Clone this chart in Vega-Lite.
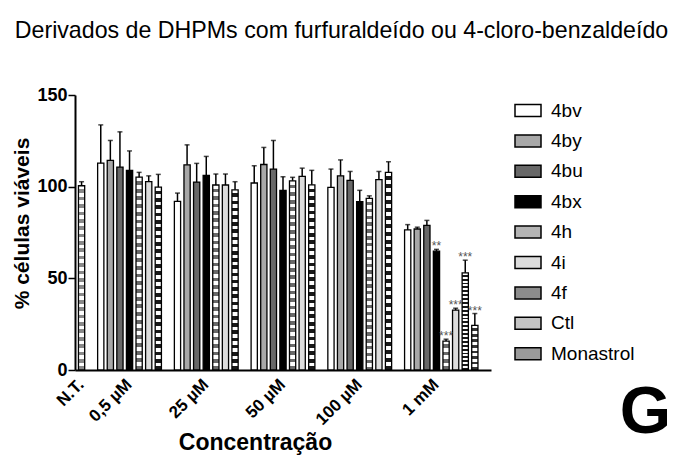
{
  "$schema": "https://vega.github.io/schema/vega-lite/v6.json",
  "background": "white",
  "padding": {"left": 11, "top": 18, "right": 0, "bottom": 0},
  "title": {"text": "Derivados de DHPMs com furfuraldeído ou 4-cloro-benzaldeído", "font": "Liberation Sans", "fontSize": 23.2, "fontWeight": "normal", "color": "black", "offset": 43, "anchor": "middle"},
  "config": {"view": {"stroke": null}, "font": "Liberation Sans",
    "axisY": {"titleFont": "Liberation Sans", "titleFontSize": 21, "titleFontWeight": "bold", "titleColor": "black", "titlePadding": 4}},
  "vconcat": [{
    "width": 416,
    "height": 275,
    "title": {"text": "G", "orient": "bottom", "anchor": "end", "frame": "bounds", "font": "Liberation Sans", "fontSize": 66, "fontWeight": "bold", "color": "black", "dx": 180, "dy": -74, "offset": 0},
    "data": {"values": [
      {"g": "N.T.", "s": "Ctl", "bar": "N.T.|Ctl", "v": 100.5, "hi": 102.7, "sig": ""},
      {"g": "0,5 µM", "s": "4bv", "bar": "0,5 µM|4bv", "v": 112.8, "hi": 133.7, "sig": ""},
      {"g": "0,5 µM", "s": "4by", "bar": "0,5 µM|4by", "v": 114.3, "hi": 125.2, "sig": ""},
      {"g": "0,5 µM", "s": "4bu", "bar": "0,5 µM|4bu", "v": 110.7, "hi": 129.9, "sig": ""},
      {"g": "0,5 µM", "s": "4bx", "bar": "0,5 µM|4bx", "v": 108.9, "hi": 119.5, "sig": ""},
      {"g": "0,5 µM", "s": "4h", "bar": "0,5 µM|4h", "v": 105.2, "hi": 107.8, "sig": ""},
      {"g": "0,5 µM", "s": "4i", "bar": "0,5 µM|4i", "v": 102.7, "hi": 105.9, "sig": ""},
      {"g": "0,5 µM", "s": "4f", "bar": "0,5 µM|4f", "v": 99.8, "hi": 106.7, "sig": ""},
      {"g": "25 µM", "s": "4bv", "bar": "25 µM|4bv", "v": 92.0, "hi": 96.5, "sig": ""},
      {"g": "25 µM", "s": "4by", "bar": "25 µM|4by", "v": 111.9, "hi": 122.8, "sig": ""},
      {"g": "25 µM", "s": "4bu", "bar": "25 µM|4bu", "v": 102.5, "hi": 112.7, "sig": ""},
      {"g": "25 µM", "s": "4bx", "bar": "25 µM|4bx", "v": 106.1, "hi": 116.5, "sig": ""},
      {"g": "25 µM", "s": "4h", "bar": "25 µM|4h", "v": 100.9, "hi": 106.9, "sig": ""},
      {"g": "25 µM", "s": "4i", "bar": "25 µM|4i", "v": 100.9, "hi": 106.9, "sig": ""},
      {"g": "25 µM", "s": "4f", "bar": "25 µM|4f", "v": 98.3, "hi": 102.7, "sig": ""},
      {"g": "50 µM", "s": "4bv", "bar": "50 µM|4bv", "v": 102.0, "hi": 111.4, "sig": ""},
      {"g": "50 µM", "s": "4by", "bar": "50 µM|4by", "v": 112.1, "hi": 121.4, "sig": ""},
      {"g": "50 µM", "s": "4bu", "bar": "50 µM|4bu", "v": 109.6, "hi": 125.2, "sig": ""},
      {"g": "50 µM", "s": "4bx", "bar": "50 µM|4bx", "v": 98.0, "hi": 105.4, "sig": ""},
      {"g": "50 µM", "s": "4h", "bar": "50 µM|4h", "v": 103.2, "hi": 105.1, "sig": ""},
      {"g": "50 µM", "s": "4i", "bar": "50 µM|4i", "v": 105.6, "hi": 110.1, "sig": ""},
      {"g": "50 µM", "s": "4f", "bar": "50 µM|4f", "v": 101.0, "hi": 108.9, "sig": ""},
      {"g": "100 µM", "s": "4bv", "bar": "100 µM|4bv", "v": 99.6, "hi": 109.6, "sig": ""},
      {"g": "100 µM", "s": "4by", "bar": "100 µM|4by", "v": 105.9, "hi": 114.6, "sig": ""},
      {"g": "100 µM", "s": "4bu", "bar": "100 µM|4bu", "v": 103.4, "hi": 108.3, "sig": ""},
      {"g": "100 µM", "s": "4bx", "bar": "100 µM|4bx", "v": 91.8, "hi": 98.0, "sig": ""},
      {"g": "100 µM", "s": "4h", "bar": "100 µM|4h", "v": 93.6, "hi": 95.0, "sig": ""},
      {"g": "100 µM", "s": "4i", "bar": "100 µM|4i", "v": 103.8, "hi": 108.3, "sig": ""},
      {"g": "100 µM", "s": "4f", "bar": "100 µM|4f", "v": 107.8, "hi": 113.6, "sig": ""},
      {"g": "1 mM", "s": "4bv", "bar": "1 mM|4bv", "v": 76.4, "hi": 79.3, "sig": ""},
      {"g": "1 mM", "s": "4by", "bar": "1 mM|4by", "v": 76.9, "hi": 77.9, "sig": ""},
      {"g": "1 mM", "s": "4bu", "bar": "1 mM|4bu", "v": 78.9, "hi": 81.6, "sig": ""},
      {"g": "1 mM", "s": "4bx", "bar": "1 mM|4bx", "v": 64.8, "hi": 65.8, "sig": "**"},
      {"g": "1 mM", "s": "4h", "bar": "1 mM|4h", "v": 15.8, "hi": 16.8, "sig": "***"},
      {"g": "1 mM", "s": "4i", "bar": "1 mM|4i", "v": 32.7, "hi": 33.7, "sig": "***"},
      {"g": "1 mM", "s": "4f", "bar": "1 mM|4f", "v": 53.0, "hi": 59.9, "sig": "***"},
      {"g": "1 mM", "s": "Monastrol", "bar": "1 mM|Monastrol", "v": 24.3, "hi": 30.8, "sig": "***"}
    ]},
    "encoding": {
      "x": {"field": "bar", "type": "nominal",
        "scale": {"domain": ["N.T.|Ctl", "gap1",
          "0,5 µM|4bv", "0,5 µM|4by", "0,5 µM|4bu", "0,5 µM|4bx", "0,5 µM|4h", "0,5 µM|4i", "0,5 µM|4f", "gap2",
          "25 µM|4bv", "25 µM|4by", "25 µM|4bu", "25 µM|4bx", "25 µM|4h", "25 µM|4i", "25 µM|4f", "gap3",
          "50 µM|4bv", "50 µM|4by", "50 µM|4bu", "50 µM|4bx", "50 µM|4h", "50 µM|4i", "50 µM|4f", "gap4",
          "100 µM|4bv", "100 µM|4by", "100 µM|4bu", "100 µM|4bx", "100 µM|4h", "100 µM|4i", "100 µM|4f", "gap5",
          "1 mM|4bv", "1 mM|4by", "1 mM|4bu", "1 mM|4bx", "1 mM|4h", "1 mM|4i", "1 mM|4f", "1 mM|Monastrol", "gap6"],
          "paddingInner": 0.35, "paddingOuter": 0.36},
        "axis": {"values": ["N.T.|Ctl", "0,5 µM|4bx", "25 µM|4bx", "50 µM|4bx", "100 µM|4bx", "1 mM|4bx"],
          "labelExpr": "slice(datum.value, 0, indexof(datum.value, '|'))",
          "labelAngle": -45, "labelFont": "Liberation Sans", "labelFontSize": 17, "labelFontWeight": "bold", "labelColor": "black",
          "labelPadding": 6, "labelOffset": -6, "ticks": false, "domainColor": "black", "domainWidth": 2,
          "title": "Concentração", "titleFont": "Liberation Sans", "titleFontSize": 23, "titleFontWeight": "bold", "titleColor": "black",
          "titlePadding": 4, "titleX": 180}
      }
    },
    "layer": [
      {
        "mark": {"type": "bar", "stroke": "black", "strokeWidth": 1.3},
        "encoding": {
          "y": {"field": "v", "type": "quantitative",
            "scale": {"domain": [0, 150], "nice": false},
            "axis": {"values": [0, 50, 100, 150], "grid": false, "labelFont": "Liberation Sans", "labelFontSize": 18, "labelFontWeight": "bold", "labelColor": "black",
              "labelPadding": 1, "tickSize": 7, "tickWidth": 1.5, "tickColor": "black", "domainColor": "black", "domainWidth": 2,
              "title": "% células viáveis", "titleFont": "Liberation Sans", "titleFontSize": 21, "titleFontWeight": "bold", "titleColor": "black", "titlePadding": 4, "titleY": 128}},
          "fill": {"field": "s", "type": "nominal",
            "condition": [
              {"test": "datum.s === '4h'", "value": {"gradient": "linear", "x1": 0, "y1": 0, "x2": 0, "y2": 1, "stops": [
                  {"offset": 0, "color": "#fff"}, {"offset": 0.02, "color": "#fff"}, {"offset": 0.02, "color": "#696969"}, {"offset": 0.04, "color": "#696969"},
                  {"offset": 0.04, "color": "#fff"}, {"offset": 0.06, "color": "#fff"}, {"offset": 0.06, "color": "#696969"}, {"offset": 0.08, "color": "#696969"},
                  {"offset": 0.08, "color": "#fff"}, {"offset": 0.1, "color": "#fff"}, {"offset": 0.1, "color": "#696969"}, {"offset": 0.12, "color": "#696969"},
                  {"offset": 0.12, "color": "#fff"}, {"offset": 0.14, "color": "#fff"}, {"offset": 0.14, "color": "#696969"}, {"offset": 0.16, "color": "#696969"},
                  {"offset": 0.16, "color": "#fff"}, {"offset": 0.18, "color": "#fff"}, {"offset": 0.18, "color": "#696969"}, {"offset": 0.2, "color": "#696969"},
                  {"offset": 0.2, "color": "#fff"}, {"offset": 0.22, "color": "#fff"}, {"offset": 0.22, "color": "#696969"}, {"offset": 0.24, "color": "#696969"},
                  {"offset": 0.24, "color": "#fff"}, {"offset": 0.26, "color": "#fff"}, {"offset": 0.26, "color": "#696969"}, {"offset": 0.28, "color": "#696969"},
                  {"offset": 0.28, "color": "#fff"}, {"offset": 0.3, "color": "#fff"}, {"offset": 0.3, "color": "#696969"}, {"offset": 0.32, "color": "#696969"},
                  {"offset": 0.32, "color": "#fff"}, {"offset": 0.34, "color": "#fff"}, {"offset": 0.34, "color": "#696969"}, {"offset": 0.36, "color": "#696969"},
                  {"offset": 0.36, "color": "#fff"}, {"offset": 0.38, "color": "#fff"}, {"offset": 0.38, "color": "#696969"}, {"offset": 0.4, "color": "#696969"},
                  {"offset": 0.4, "color": "#fff"}, {"offset": 0.42, "color": "#fff"}, {"offset": 0.42, "color": "#696969"}, {"offset": 0.44, "color": "#696969"},
                  {"offset": 0.44, "color": "#fff"}, {"offset": 0.46, "color": "#fff"}, {"offset": 0.46, "color": "#696969"}, {"offset": 0.48, "color": "#696969"},
                  {"offset": 0.48, "color": "#fff"}, {"offset": 0.5, "color": "#fff"}, {"offset": 0.5, "color": "#696969"}, {"offset": 0.52, "color": "#696969"},
                  {"offset": 0.52, "color": "#fff"}, {"offset": 0.54, "color": "#fff"}, {"offset": 0.54, "color": "#696969"}, {"offset": 0.56, "color": "#696969"},
                  {"offset": 0.56, "color": "#fff"}, {"offset": 0.58, "color": "#fff"}, {"offset": 0.58, "color": "#696969"}, {"offset": 0.6, "color": "#696969"},
                  {"offset": 0.6, "color": "#fff"}, {"offset": 0.62, "color": "#fff"}, {"offset": 0.62, "color": "#696969"}, {"offset": 0.64, "color": "#696969"},
                  {"offset": 0.64, "color": "#fff"}, {"offset": 0.66, "color": "#fff"}, {"offset": 0.66, "color": "#696969"}, {"offset": 0.68, "color": "#696969"},
                  {"offset": 0.68, "color": "#fff"}, {"offset": 0.7, "color": "#fff"}, {"offset": 0.7, "color": "#696969"}, {"offset": 0.72, "color": "#696969"},
                  {"offset": 0.72, "color": "#fff"}, {"offset": 0.74, "color": "#fff"}, {"offset": 0.74, "color": "#696969"}, {"offset": 0.76, "color": "#696969"},
                  {"offset": 0.76, "color": "#fff"}, {"offset": 0.78, "color": "#fff"}, {"offset": 0.78, "color": "#696969"}, {"offset": 0.8, "color": "#696969"},
                  {"offset": 0.8, "color": "#fff"}, {"offset": 0.82, "color": "#fff"}, {"offset": 0.82, "color": "#696969"}, {"offset": 0.84, "color": "#696969"},
                  {"offset": 0.84, "color": "#fff"}, {"offset": 0.86, "color": "#fff"}, {"offset": 0.86, "color": "#696969"}, {"offset": 0.88, "color": "#696969"},
                  {"offset": 0.88, "color": "#fff"}, {"offset": 0.9, "color": "#fff"}, {"offset": 0.9, "color": "#696969"}, {"offset": 0.92, "color": "#696969"},
                  {"offset": 0.92, "color": "#fff"}, {"offset": 0.94, "color": "#fff"}, {"offset": 0.94, "color": "#696969"}, {"offset": 0.96, "color": "#696969"},
                  {"offset": 0.96, "color": "#fff"}, {"offset": 0.98, "color": "#fff"}, {"offset": 0.98, "color": "#696969"}, {"offset": 1, "color": "#696969"}]}},
              {"test": "datum.s === '4f'", "value": {"gradient": "linear", "x1": 0, "y1": 0, "x2": 0, "y2": 1, "stops": [
                  {"offset": 0, "color": "#fff"}, {"offset": 0.02, "color": "#fff"}, {"offset": 0.02, "color": "#191919"}, {"offset": 0.04, "color": "#191919"},
                  {"offset": 0.04, "color": "#fff"}, {"offset": 0.06, "color": "#fff"}, {"offset": 0.06, "color": "#191919"}, {"offset": 0.08, "color": "#191919"},
                  {"offset": 0.08, "color": "#fff"}, {"offset": 0.1, "color": "#fff"}, {"offset": 0.1, "color": "#191919"}, {"offset": 0.12, "color": "#191919"},
                  {"offset": 0.12, "color": "#fff"}, {"offset": 0.14, "color": "#fff"}, {"offset": 0.14, "color": "#191919"}, {"offset": 0.16, "color": "#191919"},
                  {"offset": 0.16, "color": "#fff"}, {"offset": 0.18, "color": "#fff"}, {"offset": 0.18, "color": "#191919"}, {"offset": 0.2, "color": "#191919"},
                  {"offset": 0.2, "color": "#fff"}, {"offset": 0.22, "color": "#fff"}, {"offset": 0.22, "color": "#191919"}, {"offset": 0.24, "color": "#191919"},
                  {"offset": 0.24, "color": "#fff"}, {"offset": 0.26, "color": "#fff"}, {"offset": 0.26, "color": "#191919"}, {"offset": 0.28, "color": "#191919"},
                  {"offset": 0.28, "color": "#fff"}, {"offset": 0.3, "color": "#fff"}, {"offset": 0.3, "color": "#191919"}, {"offset": 0.32, "color": "#191919"},
                  {"offset": 0.32, "color": "#fff"}, {"offset": 0.34, "color": "#fff"}, {"offset": 0.34, "color": "#191919"}, {"offset": 0.36, "color": "#191919"},
                  {"offset": 0.36, "color": "#fff"}, {"offset": 0.38, "color": "#fff"}, {"offset": 0.38, "color": "#191919"}, {"offset": 0.4, "color": "#191919"},
                  {"offset": 0.4, "color": "#fff"}, {"offset": 0.42, "color": "#fff"}, {"offset": 0.42, "color": "#191919"}, {"offset": 0.44, "color": "#191919"},
                  {"offset": 0.44, "color": "#fff"}, {"offset": 0.46, "color": "#fff"}, {"offset": 0.46, "color": "#191919"}, {"offset": 0.48, "color": "#191919"},
                  {"offset": 0.48, "color": "#fff"}, {"offset": 0.5, "color": "#fff"}, {"offset": 0.5, "color": "#191919"}, {"offset": 0.52, "color": "#191919"},
                  {"offset": 0.52, "color": "#fff"}, {"offset": 0.54, "color": "#fff"}, {"offset": 0.54, "color": "#191919"}, {"offset": 0.56, "color": "#191919"},
                  {"offset": 0.56, "color": "#fff"}, {"offset": 0.58, "color": "#fff"}, {"offset": 0.58, "color": "#191919"}, {"offset": 0.6, "color": "#191919"},
                  {"offset": 0.6, "color": "#fff"}, {"offset": 0.62, "color": "#fff"}, {"offset": 0.62, "color": "#191919"}, {"offset": 0.64, "color": "#191919"},
                  {"offset": 0.64, "color": "#fff"}, {"offset": 0.66, "color": "#fff"}, {"offset": 0.66, "color": "#191919"}, {"offset": 0.68, "color": "#191919"},
                  {"offset": 0.68, "color": "#fff"}, {"offset": 0.7, "color": "#fff"}, {"offset": 0.7, "color": "#191919"}, {"offset": 0.72, "color": "#191919"},
                  {"offset": 0.72, "color": "#fff"}, {"offset": 0.74, "color": "#fff"}, {"offset": 0.74, "color": "#191919"}, {"offset": 0.76, "color": "#191919"},
                  {"offset": 0.76, "color": "#fff"}, {"offset": 0.78, "color": "#fff"}, {"offset": 0.78, "color": "#191919"}, {"offset": 0.8, "color": "#191919"},
                  {"offset": 0.8, "color": "#fff"}, {"offset": 0.82, "color": "#fff"}, {"offset": 0.82, "color": "#191919"}, {"offset": 0.84, "color": "#191919"},
                  {"offset": 0.84, "color": "#fff"}, {"offset": 0.86, "color": "#fff"}, {"offset": 0.86, "color": "#191919"}, {"offset": 0.88, "color": "#191919"},
                  {"offset": 0.88, "color": "#fff"}, {"offset": 0.9, "color": "#fff"}, {"offset": 0.9, "color": "#191919"}, {"offset": 0.92, "color": "#191919"},
                  {"offset": 0.92, "color": "#fff"}, {"offset": 0.94, "color": "#fff"}, {"offset": 0.94, "color": "#191919"}, {"offset": 0.96, "color": "#191919"},
                  {"offset": 0.96, "color": "#fff"}, {"offset": 0.98, "color": "#fff"}, {"offset": 0.98, "color": "#191919"}, {"offset": 1, "color": "#191919"}]}},
              {"test": "datum.s === 'Ctl'", "value": {"gradient": "linear", "x1": 0, "y1": 0, "x2": 0, "y2": 1, "stops": [
                  {"offset": 0, "color": "#fff"}, {"offset": 0.02, "color": "#fff"}, {"offset": 0.02, "color": "#898989"}, {"offset": 0.04, "color": "#898989"},
                  {"offset": 0.04, "color": "#fff"}, {"offset": 0.06, "color": "#fff"}, {"offset": 0.06, "color": "#898989"}, {"offset": 0.08, "color": "#898989"},
                  {"offset": 0.08, "color": "#fff"}, {"offset": 0.1, "color": "#fff"}, {"offset": 0.1, "color": "#898989"}, {"offset": 0.12, "color": "#898989"},
                  {"offset": 0.12, "color": "#fff"}, {"offset": 0.14, "color": "#fff"}, {"offset": 0.14, "color": "#898989"}, {"offset": 0.16, "color": "#898989"},
                  {"offset": 0.16, "color": "#fff"}, {"offset": 0.18, "color": "#fff"}, {"offset": 0.18, "color": "#898989"}, {"offset": 0.2, "color": "#898989"},
                  {"offset": 0.2, "color": "#fff"}, {"offset": 0.22, "color": "#fff"}, {"offset": 0.22, "color": "#898989"}, {"offset": 0.24, "color": "#898989"},
                  {"offset": 0.24, "color": "#fff"}, {"offset": 0.26, "color": "#fff"}, {"offset": 0.26, "color": "#898989"}, {"offset": 0.28, "color": "#898989"},
                  {"offset": 0.28, "color": "#fff"}, {"offset": 0.3, "color": "#fff"}, {"offset": 0.3, "color": "#898989"}, {"offset": 0.32, "color": "#898989"},
                  {"offset": 0.32, "color": "#fff"}, {"offset": 0.34, "color": "#fff"}, {"offset": 0.34, "color": "#898989"}, {"offset": 0.36, "color": "#898989"},
                  {"offset": 0.36, "color": "#fff"}, {"offset": 0.38, "color": "#fff"}, {"offset": 0.38, "color": "#898989"}, {"offset": 0.4, "color": "#898989"},
                  {"offset": 0.4, "color": "#fff"}, {"offset": 0.42, "color": "#fff"}, {"offset": 0.42, "color": "#898989"}, {"offset": 0.44, "color": "#898989"},
                  {"offset": 0.44, "color": "#fff"}, {"offset": 0.46, "color": "#fff"}, {"offset": 0.46, "color": "#898989"}, {"offset": 0.48, "color": "#898989"},
                  {"offset": 0.48, "color": "#fff"}, {"offset": 0.5, "color": "#fff"}, {"offset": 0.5, "color": "#898989"}, {"offset": 0.52, "color": "#898989"},
                  {"offset": 0.52, "color": "#fff"}, {"offset": 0.54, "color": "#fff"}, {"offset": 0.54, "color": "#898989"}, {"offset": 0.56, "color": "#898989"},
                  {"offset": 0.56, "color": "#fff"}, {"offset": 0.58, "color": "#fff"}, {"offset": 0.58, "color": "#898989"}, {"offset": 0.6, "color": "#898989"},
                  {"offset": 0.6, "color": "#fff"}, {"offset": 0.62, "color": "#fff"}, {"offset": 0.62, "color": "#898989"}, {"offset": 0.64, "color": "#898989"},
                  {"offset": 0.64, "color": "#fff"}, {"offset": 0.66, "color": "#fff"}, {"offset": 0.66, "color": "#898989"}, {"offset": 0.68, "color": "#898989"},
                  {"offset": 0.68, "color": "#fff"}, {"offset": 0.7, "color": "#fff"}, {"offset": 0.7, "color": "#898989"}, {"offset": 0.72, "color": "#898989"},
                  {"offset": 0.72, "color": "#fff"}, {"offset": 0.74, "color": "#fff"}, {"offset": 0.74, "color": "#898989"}, {"offset": 0.76, "color": "#898989"},
                  {"offset": 0.76, "color": "#fff"}, {"offset": 0.78, "color": "#fff"}, {"offset": 0.78, "color": "#898989"}, {"offset": 0.8, "color": "#898989"},
                  {"offset": 0.8, "color": "#fff"}, {"offset": 0.82, "color": "#fff"}, {"offset": 0.82, "color": "#898989"}, {"offset": 0.84, "color": "#898989"},
                  {"offset": 0.84, "color": "#fff"}, {"offset": 0.86, "color": "#fff"}, {"offset": 0.86, "color": "#898989"}, {"offset": 0.88, "color": "#898989"},
                  {"offset": 0.88, "color": "#fff"}, {"offset": 0.9, "color": "#fff"}, {"offset": 0.9, "color": "#898989"}, {"offset": 0.92, "color": "#898989"},
                  {"offset": 0.92, "color": "#fff"}, {"offset": 0.94, "color": "#fff"}, {"offset": 0.94, "color": "#898989"}, {"offset": 0.96, "color": "#898989"},
                  {"offset": 0.96, "color": "#fff"}, {"offset": 0.98, "color": "#fff"}, {"offset": 0.98, "color": "#898989"}, {"offset": 1, "color": "#898989"}]}},
              {"test": "datum.s === 'Monastrol'", "value": {"gradient": "linear", "x1": 0, "y1": 0, "x2": 0, "y2": 1, "stops": [
                  {"offset": 0, "color": "#fff"}, {"offset": 0.0625, "color": "#fff"}, {"offset": 0.0625, "color": "#353535"}, {"offset": 0.125, "color": "#353535"},
                  {"offset": 0.125, "color": "#fff"}, {"offset": 0.1875, "color": "#fff"}, {"offset": 0.1875, "color": "#353535"}, {"offset": 0.25, "color": "#353535"},
                  {"offset": 0.25, "color": "#fff"}, {"offset": 0.3125, "color": "#fff"}, {"offset": 0.3125, "color": "#353535"}, {"offset": 0.375, "color": "#353535"},
                  {"offset": 0.375, "color": "#fff"}, {"offset": 0.4375, "color": "#fff"}, {"offset": 0.4375, "color": "#353535"}, {"offset": 0.5, "color": "#353535"},
                  {"offset": 0.5, "color": "#fff"}, {"offset": 0.5625, "color": "#fff"}, {"offset": 0.5625, "color": "#353535"}, {"offset": 0.625, "color": "#353535"},
                  {"offset": 0.625, "color": "#fff"}, {"offset": 0.6875, "color": "#fff"}, {"offset": 0.6875, "color": "#353535"}, {"offset": 0.75, "color": "#353535"},
                  {"offset": 0.75, "color": "#fff"}, {"offset": 0.8125, "color": "#fff"}, {"offset": 0.8125, "color": "#353535"}, {"offset": 0.875, "color": "#353535"},
                  {"offset": 0.875, "color": "#fff"}, {"offset": 0.9375, "color": "#fff"}, {"offset": 0.9375, "color": "#353535"}, {"offset": 1, "color": "#353535"}]}}
            ],
            "scale": {"domain": ["4bv", "4by", "4bu", "4bx", "4h", "4i", "4f", "Ctl", "Monastrol"],
              "range": ["#ffffff", "#a8a8a8", "#686868", "#000000", "#b4b4b4", "#dcdcdc", "#8c8c8c", "#c4c4c4", "#9a9a9a"]},
            "legend": {"title": null, "orient": "none", "legendX": 439, "legendY": 1.5, "padding": 0,
              "symbolType": "M-1,-0.46L1,-0.46L1,0.46L-1,0.46Z", "symbolSize": 676, "symbolStrokeColor": "black", "symbolStrokeWidth": 1.5,
              "labelFont": "Liberation Sans", "labelFontSize": 19, "labelColor": "black", "labelOffset": 9, "rowPadding": 6.4, "labelLimit": 200}}
        }
      },
      {
        "mark": {"type": "rule", "stroke": "black", "strokeWidth": 1.5},
        "encoding": {"y": {"field": "v", "type": "quantitative"}, "y2": {"field": "hi"}}
      },
      {
        "mark": {"type": "tick", "color": "black", "thickness": 1.5, "size": 5},
        "encoding": {"y": {"field": "hi", "type": "quantitative"}}
      },
      {
        "transform": [{"filter": "datum.sig != ''"}],
        "mark": {"type": "text", "font": "Liberation Sans", "fontSize": 12, "color": "#555555", "baseline": "alphabetic", "dy": 1},
        "encoding": {"y": {"field": "hi", "type": "quantitative"}, "text": {"field": "sig"}}
      }
    ]
  }]
}
